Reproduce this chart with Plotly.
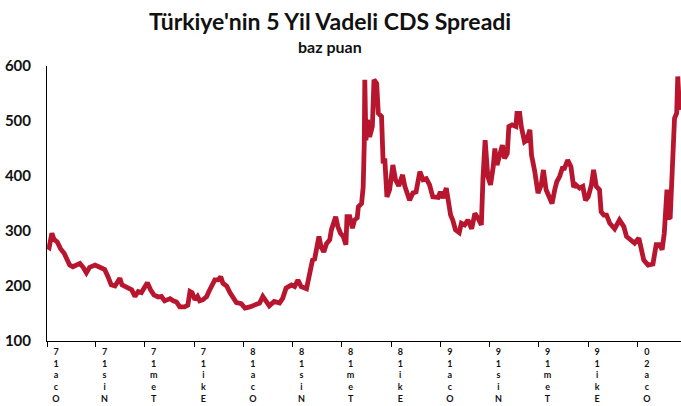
import plotly.graph_objects as go

dates = [
    "2017-01-02","2017-01-05","2017-01-10","2017-01-14","2017-01-20","2017-01-26","2017-02-02","2017-02-06",
    "2017-02-12","2017-02-18","2017-02-25","2017-03-03","2017-03-09","2017-03-15","2017-03-21","2017-03-31",
    "2017-04-09","2017-04-18","2017-04-24","2017-04-30","2017-05-07","2017-05-13","2017-05-16","2017-05-20",
    "2017-05-28","2017-06-07","2017-06-13","2017-06-19","2017-06-25","2017-07-01","2017-07-06","2017-07-12",
    "2017-07-18","2017-07-26","2017-08-01","2017-08-07","2017-08-17","2017-08-23","2017-08-29","2017-09-04",
    "2017-09-13","2017-09-19","2017-09-23","2017-09-27","2017-10-02","2017-10-07","2017-10-11","2017-10-17",
    "2017-10-24","2017-10-28","2017-11-02","2017-11-08","2017-11-14","2017-11-19","2017-11-23","2017-11-30",
    "2017-12-06","2017-12-12","2017-12-18","2017-12-27",
    "2018-01-03","2018-01-12","2018-01-21","2018-01-30","2018-02-05","2018-02-11","2018-02-17","2018-02-26",
    "2018-03-08","2018-03-14","2018-03-20","2018-03-30","2018-04-05","2018-04-11","2018-04-17","2018-04-27",
    "2018-05-03","2018-05-08","2018-05-12","2018-05-16","2018-05-20","2018-05-24","2018-05-29","2018-06-03",
    "2018-06-09","2018-06-12","2018-06-16","2018-06-20","2018-06-24","2018-06-29","2018-07-04","2018-07-09",
    "2018-07-11","2018-07-16","2018-07-21","2018-07-25","2018-07-30","2018-08-01","2018-08-07","2018-08-10",
    "2018-08-12","2018-08-13","2018-08-15","2018-08-18","2018-08-22","2018-08-27","2018-08-30","2018-09-04",
    "2018-09-07","2018-09-13","2018-09-16","2018-09-19","2018-09-23","2018-09-28","2018-10-04","2018-10-09",
    "2018-10-15","2018-10-22","2018-10-26","2018-11-04","2018-11-10","2018-11-16","2018-11-23","2018-11-29",
    "2018-12-05","2018-12-11","2018-12-17","2018-12-27","2018-12-31",
    "2019-01-05","2019-01-11","2019-01-14","2019-01-19","2019-01-23","2019-01-28","2019-02-04","2019-02-08",
    "2019-02-14","2019-02-20","2019-02-27","2019-03-05","2019-03-11","2019-03-17","2019-03-20","2019-03-24",
    "2019-03-29","2019-04-03","2019-04-08","2019-04-11","2019-04-15","2019-04-20","2019-04-25","2019-04-29",
    "2019-05-04","2019-05-07","2019-05-13","2019-05-20","2019-05-22","2019-05-27","2019-05-30","2019-06-05",
    "2019-06-09","2019-06-15","2019-06-18","2019-06-24","2019-06-30","2019-07-06","2019-07-10","2019-07-15",
    "2019-07-21","2019-07-26","2019-07-31","2019-08-04","2019-08-09","2019-08-14","2019-08-18","2019-08-24",
    "2019-08-30","2019-09-04","2019-09-08","2019-09-15","2019-09-21","2019-09-26","2019-10-01","2019-10-07",
    "2019-10-11","2019-10-16","2019-10-22","2019-10-25","2019-10-30","2019-11-04","2019-11-10","2019-11-19",
    "2019-11-28","2019-12-06","2019-12-11","2019-12-18","2019-12-26",
    "2020-01-03","2020-01-07","2020-01-12","2020-01-20","2020-01-29","2020-02-04","2020-02-10","2020-02-15",
    "2020-02-19","2020-02-24","2020-02-27","2020-03-01","2020-03-05","2020-03-09","2020-03-13","2020-03-15",
    "2020-03-18","2020-03-20",
]

cds_bps = [
    272,270,296,285,280,268,259,250,
    238,235,238,241,234,224,234,238,
    234,230,217,202,200,208,214,202,
    198,193,181,190,188,200,206,193,
    184,180,181,173,177,173,171,162,
    162,165,190,188,175,181,173,175,
    181,190,199,211,211,217,205,200,
    188,177,170,168,
    160,162,165,169,181,172,164,172,
    169,178,196,202,199,211,199,195,
    223,247,249,277,290,271,262,277,
    284,302,314,326,308,296,290,275,
    326,326,305,320,324,344,350,380,
    459,575,465,502,471,490,575,568,
    514,508,423,432,362,375,420,393,
    382,402,382,356,369,371,408,393,
    395,384,362,361,371,
    360,378,358,329,320,302,297,314,
    311,320,304,332,323,311,396,465,
    399,384,417,450,420,435,456,432,
    441,490,493,490,514,514,490,462,
    465,484,438,408,369,384,411,375,
    362,350,375,390,399,414,414,429,
    417,380,384,378,381,356,362,384,
    411,381,375,335,329,329,314,304,
    320,308,290,284,278,
    287,268,247,238,240,275,275,266,
    296,375,323,325,411,505,514,581,
    526,520,
]

tick_dates = [
    "2017-01-01","2017-04-01","2017-07-01","2017-10-01",
    "2018-01-01","2018-04-01","2018-07-01","2018-10-01",
    "2019-01-01","2019-04-01","2019-07-01","2019-10-01",
    "2020-01-01",
]
tick_labels = [
    "Oca.17","Nis.17","Tem.17","Eki.17",
    "Oca.18","Nis.18","Tem.18","Eki.18",
    "Oca.19","Nis.19","Tem.19","Eki.19",
    "Oca.20",
]

y_ticks = [100, 200, 300, 400, 500, 600]

title_text = "Türkiye'nin 5 Yil Vadeli CDS Spreadi"
subtitle_text = "baz puan"


def stacked(label):
    # characters stacked vertically, read from bottom to top (no dot)
    chars = [c for c in label.replace(".", "")]
    return "<b>" + "<br>".join(reversed(chars)) + "</b>"


FONT = "Lato"
RED = "#B8162F"

fig = go.Figure()
fig.add_trace(go.Scatter(
    x=dates, y=cds_bps, mode="lines",
    line=dict(color=RED, width=4.8),
    showlegend=False,
))

fig.update_layout(
    width=681, height=406,
    margin=dict(l=47, r=0, t=66, b=65),
    paper_bgcolor="white", plot_bgcolor="white",
    font=dict(family=FONT, color="#111111"),
    annotations=[
        dict(text="<b>" + title_text + "</b>", xref="paper", yref="paper",
             x=0.446, y=1.165, xanchor="center", yanchor="middle",
             showarrow=False, font=dict(family=FONT, size=23, color="#111111")),
        dict(text="<b>" + subtitle_text + "</b>", xref="paper", yref="paper",
             x=0.446, y=1.07, xanchor="center", yanchor="middle",
             showarrow=False, font=dict(family=FONT, size=16, color="#111111")),
    ],
)

fig.update_xaxes(
    range=["2017-01-01", "2020-03-21"],
    automargin=False,
    showgrid=False, zeroline=False,
    showline=True, linecolor="black", linewidth=1,
    ticks="outside", ticklen=5, tickcolor="black", tickwidth=1,
    tickvals=tick_dates, ticktext=[stacked(t) for t in tick_labels],
    tickangle=0,
    ticklabelshift=9,
    ticklabelstandoff=-3,
    tickfont=dict(family=FONT, size=9, color="#111111"),
)
fig.update_yaxes(
    range=[100, 600],
    automargin=False,
    showgrid=False, zeroline=False,
    showline=True, linecolor="black", linewidth=1,
    ticks="", tickvals=y_ticks,
    ticktext=["<b>%d</b>" % v for v in y_ticks],
    ticklabelstandoff=12,
    tickfont=dict(family=FONT, size=15, color="#111111"),
)

fig.write_html(
    "out.html",
    config={"displayModeBar": False},
    post_script="document.body.style.margin='0';document.body.style.overflow='hidden';",
)
